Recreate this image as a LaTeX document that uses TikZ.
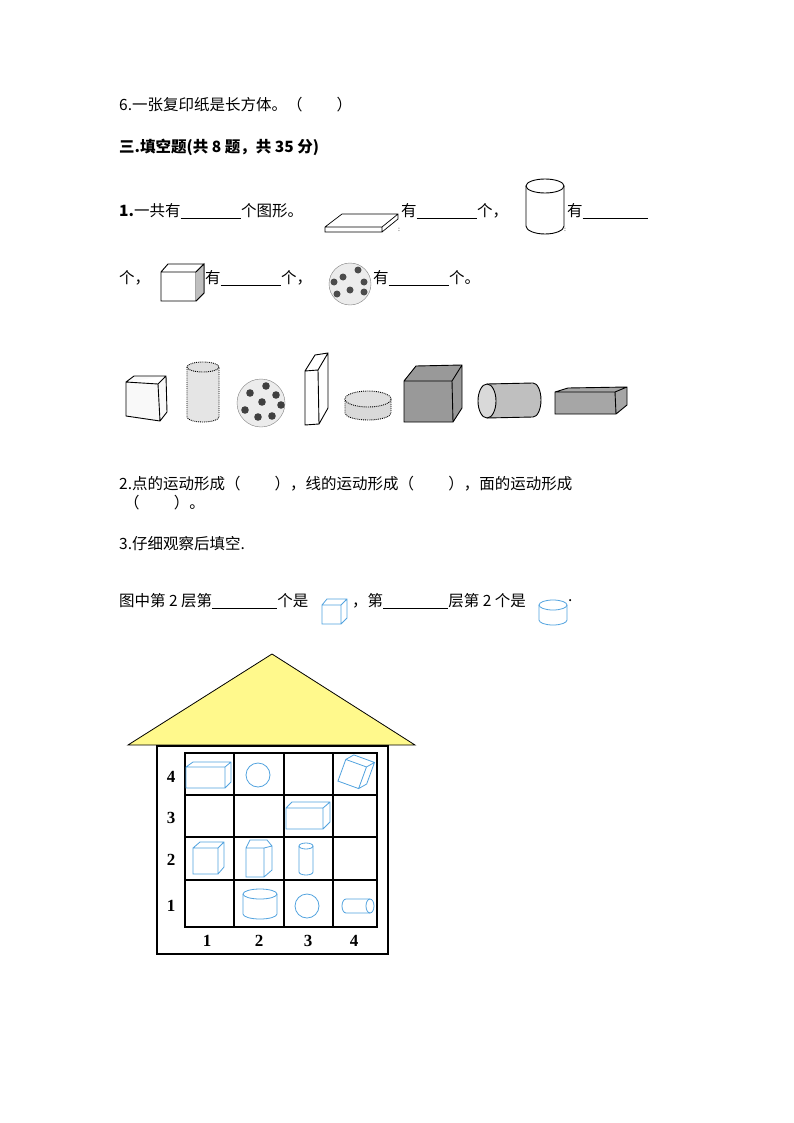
\documentclass[tikz,border=0pt]{standalone}
\usepackage{fontspec}
\setmainfont{Liberation Serif}
\newfontfamily\cjk{Noto Sans CJK SC}
\begin{document}
\begin{tikzpicture}[x=1pt,y=-1pt,
  txt/.style={anchor=west,inner sep=0pt,font=\cjk\fontsize{15.5}{17}\selectfont},
  num/.style={inner sep=0pt,font=\bfseries\fontsize{17}{18}\selectfont},
  blue/.style={draw=cyan!70!blue!70,line width=0.8pt},
  sh/.style={draw=black,line width=0.9pt}]
\useasboundingbox (0,0) rectangle (794,1123);
\fill[white] (0,0) rectangle (794,1123);
% texts
\node[txt] (t6) at (119,105) {6.一张复印纸是长方体。（\hspace{2.2em}）};
\node[txt,font=\cjk\bfseries\fontsize{15.5}{17}\selectfont] (t3) at (119,147) {三.填空题(共 8 题，共 35 分)};
\node[txt] (l1a) at (119,211) {\textbf{1.}一共有\underline{\hspace{3.9em}}个图形。};
\node[txt] (l1b) at (401,211) {有\underline{\hspace{3.9em}}个，};
\node[txt] (l1c) at (567,211) {有\underline{\hspace{4.2em}}};
\node[txt] (l2a) at (119,278) {个，};
\node[txt] (l2b) at (205,278) {有\underline{\hspace{3.9em}}个，};
\node[txt] (l2c) at (373,278) {有\underline{\hspace{3.9em}}个。};
\node[txt] (q2) at (119,484) {2.点的运动形成（\hspace{2.2em}），线的运动形成（\hspace{2.2em}），面的运动形成};
\node[txt] (q2b) at (124,503) {（\hspace{2.2em}）。};
\node[txt] (q3) at (119,544) {3.仔细观察后填空.};
\node[txt] (q3a) at (119,601) {图中第 2 层第\underline{\hspace{4.2em}}个是};
\node[txt] (q3b) at (352,601) {，第\underline{\hspace{4.2em}}层第 2 个是};
\node[txt] (q3c) at (568,601) {.};
% line 1 shapes: thin slab
\draw[sh,line width=0.7pt] (325,227)--(342,214)--(398,214)--(398,219)--(382,232)--(325,232)--cycle (325,227)--(382,227)--(398,214) (382,227)--(382,232);
\node[txt,font=\fontsize{7}{7}\selectfont] at (398,230) {:};
% cylinder
\draw[sh] (526,186) -- (526,226) arc[start angle=180,end angle=0,x radius=19,y radius=8] -- (564,186);
\draw[sh] (545,186) ellipse[x radius=19,y radius=7];
\node[txt,font=\fontsize{7}{7}\selectfont] at (564,230) {:};
% cube
\draw[sh] (161,272)--(161,301)--(196,301)--(196,272)--cycle (161,272)--(168,264)--(204,264)--(204,293)--(196,301) (196,272)--(204,264);
\fill[gray!50] (196,272)--(204,264)--(204,293)--(196,301)--cycle;
\draw[sh] (196,272)--(204,264)--(204,293)--(196,301);
% ball
\draw[gray,fill=gray!15] (350,284) circle (21);
\foreach \a/\b in {343/277,358/270,350/290,337/294,364/292,334/282,364/282}{\fill[black!70] (\a,\b) circle (3.5);}
% row of shapes
\draw[sh,fill=gray!5] (126,382)--(134,376)--(166,376)--(167,412)--(160,421)--(126,416)--cycle (126,382)--(158,384)--(166,376) (158,384)--(160,421);
\draw[sh,fill=gray!20,densely dotted] (187,367)--(187,417) arc[start angle=180,end angle=0,x radius=16,y radius=5]--(219,367);
\draw[sh,fill=gray!25,densely dotted] (203,367) ellipse[x radius=16,y radius=5];
\draw[gray,fill=gray!15] (261,403) circle (24);
\foreach \a/\b in {250/393,266/386,262/402,245/410,281/405,276/395,258/417,272/416}{\fill[black!75] (\a,\b) circle (3.8);}
\draw[sh,fill=white] (305,371)--(315,355)--(328,353)--(328,408)--(319,424)--(305,425)--cycle (305,371)--(318,370)--(328,353) (318,370)--(319,424);
\draw[sh,fill=gray!30,densely dotted] (345,399)--(345,413) arc[start angle=180,end angle=0,x radius=23,y radius=7]--(391,399);
\draw[sh,fill=gray!25,densely dotted] (368,399) ellipse[x radius=23,y radius=8];
\fill[gray!80] (404,381)--(416,366)--(462,365)--(462,408)--(453,422)--(404,422)--cycle;
\draw[sh] (404,381)--(416,366)--(462,365)--(462,408)--(453,422)--(404,422)--cycle (404,381)--(452,381)--(462,365) (452,381)--(453,422);
\draw[sh,fill=gray!50] (487,384) -- (533,383) arc[start angle=-90,end angle=90,x radius=8,y radius=17] -- (487,418);
\draw[sh,fill=gray!30] (487,401) ellipse[x radius=9,y radius=17];
\fill[gray!70] (555,392)--(568,388)--(627,387)--(627,405)--(616,414)--(555,414)--cycle;
\draw[sh] (555,392)--(568,388)--(627,387)--(627,405)--(616,414)--(555,414)--cycle (555,392)--(615,392)--(627,387) (615,392)--(616,414);
% inline blue shapes
\draw[blue] (322,605) rectangle (341,624) (322,605)--(327,599)--(347,599)--(347,618)--(341,624) (341,605)--(347,599);
\draw[blue] (539,605)--(539,620) arc[start angle=180,end angle=0,x radius=14,y radius=5]--(567,605);
\draw[blue] (553,605) ellipse[x radius=14,y radius=5];
% house
\draw[fill=yellow!45!white,line width=0.8pt] (128,745)--(272,654)--(415,745)--cycle;
\draw[line width=1.4pt] (157,746) rectangle (388,954);
\draw[line width=1.6pt] (185,753) rectangle (377,927);
\foreach \x in {234,284,333}{\draw[line width=1.6pt] (\x,753)--(\x,927);}
\foreach \y in {795,837,880}{\draw[line width=1.6pt] (185,\y)--(377,\y);}
\foreach \t/\y in {4/777,3/818,2/860,1/906}{\node[num] at (171,\y) {\t};}
\foreach \t/\x in {1/207,2/259,3/308,4/354}{\node[num] at (\x,941) {\t};}
% blue shapes in grid
\draw[blue] (186,767) rectangle (225,788) (186,767)--(193,762)--(231,762)--(231,782)--(225,788) (225,767)--(231,762);
\draw[blue] (258,775) circle (12);
\draw[blue,rotate around={-20:(354,772)}] (342,763) rectangle (364,786) (342,763)--(348,756)--(370,756)--(370,779)--(364,786) (364,763)--(370,756);
\draw[blue] (286,808) rectangle (323,829) (286,808)--(292,802)--(330,802)--(330,822)--(323,829) (323,808)--(330,802);
\draw[blue] (193,848) rectangle (218,874) (193,848)--(200,842)--(224,842)--(224,867)--(218,874) (218,848)--(224,842);
\draw[blue] (246,848) rectangle (264,877) (246,848)--(250,840)--(267,840)--(272,846)--(272,870)--(264,877) (264,848)--(272,846);
\draw[blue] (299,846)--(299,872) arc[start angle=180,end angle=0,x radius=7,y radius=3]--(313,846);
\draw[blue] (306,846) ellipse[x radius=7,y radius=3];
\draw[blue] (243,894)--(243,914) arc[start angle=180,end angle=0,x radius=17,y radius=5]--(277,894);
\draw[blue] (260,894) ellipse[x radius=17,y radius=5];
\draw[blue] (307,906) circle (12);
\draw[blue] (346,899)--(370,899) (370,913)--(346,913) arc[start angle=90,end angle=270,x radius=4,y radius=7];
\draw[blue] (370,906) ellipse[x radius=4,y radius=7];
\end{tikzpicture}
\end{document}
